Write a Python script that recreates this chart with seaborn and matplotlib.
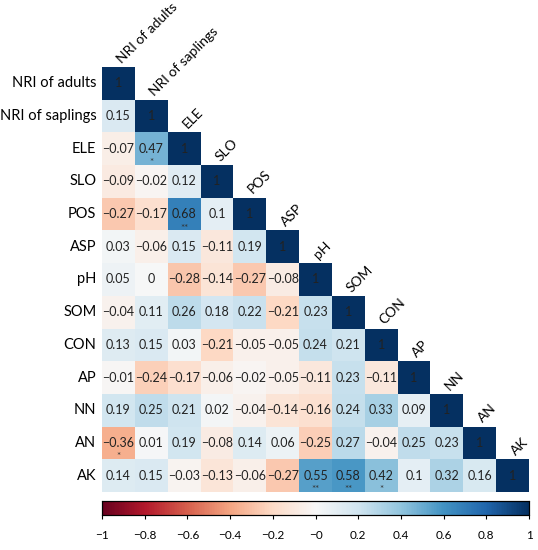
import numpy as np
import pandas as pd
import matplotlib
matplotlib.use('Agg')
import matplotlib.pyplot as plt
import seaborn as sns

labels = ['NRI of adults', 'NRI of saplings', 'ELE', 'SLO', 'POS', 'ASP', 'pH',
          'SOM', 'CON', 'AP', 'NN', 'AN', 'AK']

# lower triangle rows (incl. diagonal)
rows = [
    [1],
    [0.15, 1],
    [-0.07, 0.47, 1],
    [-0.09, -0.02, 0.12, 1],
    [-0.27, -0.17, 0.68, 0.1, 1],
    [0.03, -0.06, 0.15, -0.11, 0.19, 1],
    [0.05, 0, -0.28, -0.14, -0.27, -0.08, 1],
    [-0.04, 0.11, 0.26, 0.18, 0.22, -0.21, 0.23, 1],
    [0.13, 0.15, 0.03, -0.21, -0.05, -0.05, 0.24, 0.21, 1],
    [-0.01, -0.24, -0.17, -0.06, -0.02, -0.05, -0.11, 0.23, -0.11, 1],
    [0.19, 0.25, 0.21, 0.02, -0.04, -0.14, -0.16, 0.24, 0.33, 0.09, 1],
    [-0.36, 0.01, 0.19, -0.08, 0.14, 0.06, -0.25, 0.27, -0.04, 0.25, 0.23, 1],
    [0.14, 0.15, -0.03, -0.13, -0.06, -0.27, 0.55, 0.58, 0.42, 0.1, 0.32, 0.16, 1],
]

# significance marks (row, col, stars)
signif = [(2, 1, '*'), (4, 2, '**'), (11, 0, '*'), (12, 6, '**'), (12, 7, '**'), (12, 8, '*')]

n = len(labels)
mat = np.full((n, n), np.nan)
for i, r in enumerate(rows):
    mat[i, :len(r)] = r
df = pd.DataFrame(mat, index=labels, columns=labels)
mask = np.isnan(mat)

def fmt(v):
    if np.isnan(v):
        return ''
    return f'{v:g}'.replace('-', '\u2212')

annot = np.vectorize(fmt)(mat)

plt.rcParams['font.family'] = ['Lato', 'DejaVu Sans']

fig = plt.figure(figsize=(5.38, 5.5), dpi=100)
ax = fig.add_axes([0.1896, 0.1055, 0.7937, 0.7727])
cax = fig.add_axes([0.1896, 0.0636, 0.7937, 0.0255])

sns.heatmap(df, mask=mask, cmap='RdBu', vmin=-1, vmax=1, annot=annot, fmt='',
            annot_kws={'fontsize': 9, 'color': '#222222'}, ax=ax, cbar_ax=cax,
            cbar_kws={'orientation': 'horizontal', 'ticks': np.arange(-1, 1.01, 0.2)},
            square=False)

# stars sit just under the value
for i, j, s in signif:
    ax.text(j + 0.5, i + 0.93, s, ha='center', va='center', fontsize=7, color='#333333')

ax.set_xticks([])
ax.set_yticks(np.arange(n) + 0.5)
ax.set_yticklabels(labels, rotation=0, fontsize=10.5)
ax.tick_params(axis='y', length=0, pad=4)
ax.set_xlabel('')
ax.set_ylabel('')

# diagonal column labels
for j, lab in enumerate(labels):
    ax.text(j + 0.6, j - 0.1, lab, rotation=45, ha='left', va='baseline',
            rotation_mode='anchor', fontsize=10)

cax.tick_params(labelsize=8.5, length=3, pad=8)
cax.set_xticklabels([fmt(round(t, 1)) for t in np.arange(-1, 1.01, 0.2)])
for sp in cax.spines.values():
    sp.set_visible(True)
    sp.set_linewidth(0.8)

fig.savefig('out.png', dpi=100)
